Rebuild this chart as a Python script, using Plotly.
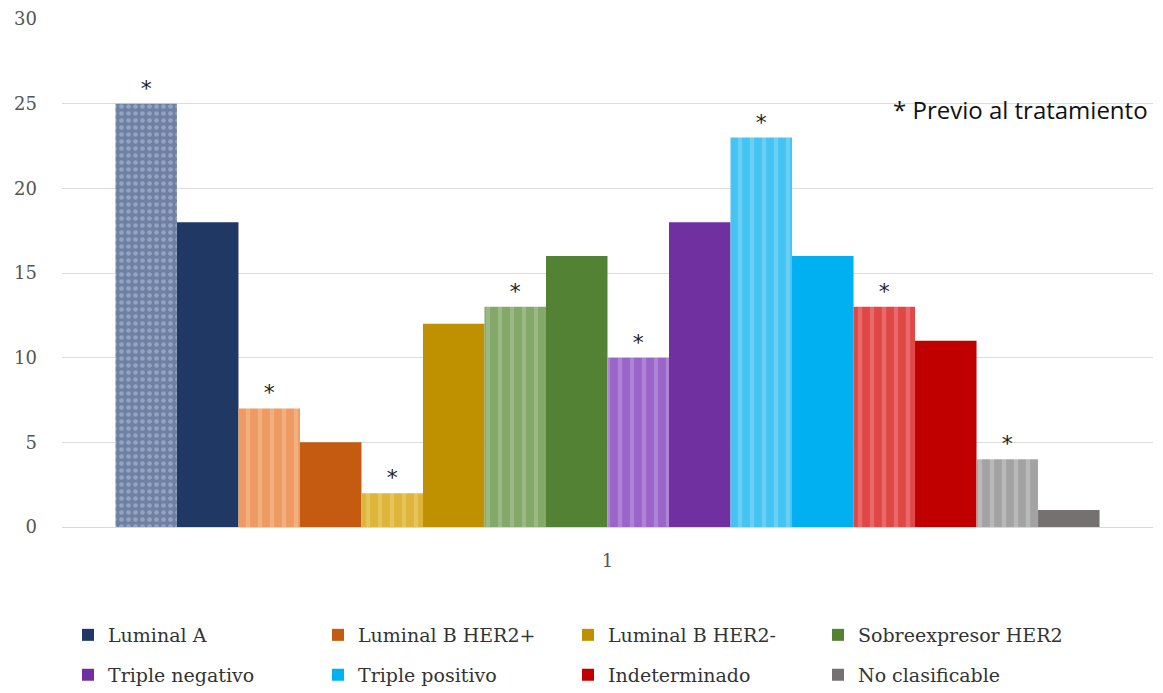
import plotly.graph_objects as go

categories = ["Luminal A", "Luminal B HER2+", "Luminal B HER2-", "Sobreexpresor HER2",
              "Triple negativo", "Triple positivo", "Indeterminado", "No clasificable"]
previo = [25, 7, 2, 13, 10, 23, 13, 4]
posterior = [18, 5, 12, 16, 18, 16, 11, 1]
x_label = ["1"]

solid_colors = ["#203864", "#c55a11", "#bf9000", "#548235", "#7030a0", "#00b0f0", "#c00000", "#767171"]
pattern_bg = ["#6e80a4", "#ee9a62", "#dcb53a", "#84a76a", "#9b66c9", "#45c3f2", "#e04848", "#a3a3a3"]
pattern_fg = ["#b9c6dc", "#f6c39c", "#efd479", "#b2cb9c", "#c4a0e2", "#8fdcf8", "#f28a8a", "#cfcfcf"]
pattern_shape = [".", "|", "|", "|", "|", "|", "|", "|"]

fig = go.Figure()
for i, cat in enumerate(categories):
    fig.add_trace(go.Bar(
        x=x_label, y=[previo[i]], name=cat + " (previo)", showlegend=False,
        marker=dict(color=pattern_bg[i], line=dict(width=0),
                    pattern=dict(shape=pattern_shape[i], fgcolor=pattern_fg[i], bgcolor=pattern_bg[i],
                                 size=7 if i == 0 else 12, solidity=0.35, fillmode="overlay")),
        text=["*"], texttemplate="*", textposition="outside",
        textfont=dict(family="DejaVu Sans", size=22, color="#222222"),
        cliponaxis=False, hoverinfo="skip"))
    fig.add_trace(go.Bar(
        x=x_label, y=[posterior[i]], name=cat,
        legend="legend" if i < 4 else "legend2",
        marker=dict(color=solid_colors[i], line=dict(width=0)), hoverinfo="skip"))

fig.add_annotation(text="* Previo al tratamiento", xref="paper", yref="paper",
                   x=0.997, y=0.821, xanchor="right", yanchor="middle", showarrow=False,
                   font=dict(family="Open Sans", size=24, color="#111111"))

legend_common = dict(orientation="h", xanchor="left", yanchor="middle",
                     entrywidth=205, entrywidthmode="pixels", traceorder="normal",
                     font=dict(family="DejaVu Serif", size=19, color="#333333"),
                     itemwidth=30, bgcolor="rgba(0,0,0,0)")

fig.update_layout(
    width=1155, height=685,
    margin=dict(l=54, r=10, t=11, b=166, autoexpand=False),
    paper_bgcolor="white", plot_bgcolor="white",
    barmode="group", bargap=0.098, bargroupgap=0,
    font=dict(family="Liberation Serif", size=19, color="#555555"),
    xaxis=dict(showgrid=False, showline=True, linecolor="#d9d9d9", linewidth=1, ticks="",
               automargin=False, ticklabelstandoff=17,
               tickfont=dict(family="DejaVu Serif", size=18, color="#555555")),
    yaxis=dict(range=[0, 30], dtick=5, showgrid=True, gridcolor="#dcdcdc", gridwidth=1,
               zeroline=False, showline=False, ticks="", ticklabelstandoff=24, automargin=False,
               tickfont=dict(family="DejaVu Serif", size=18, color="#555555")),
    legend=dict(x=0.0055, y=-0.2126, **legend_common),
    legend2=dict(x=0.0055, y=-0.291, **legend_common),
)

fig.write_html("out.html")
